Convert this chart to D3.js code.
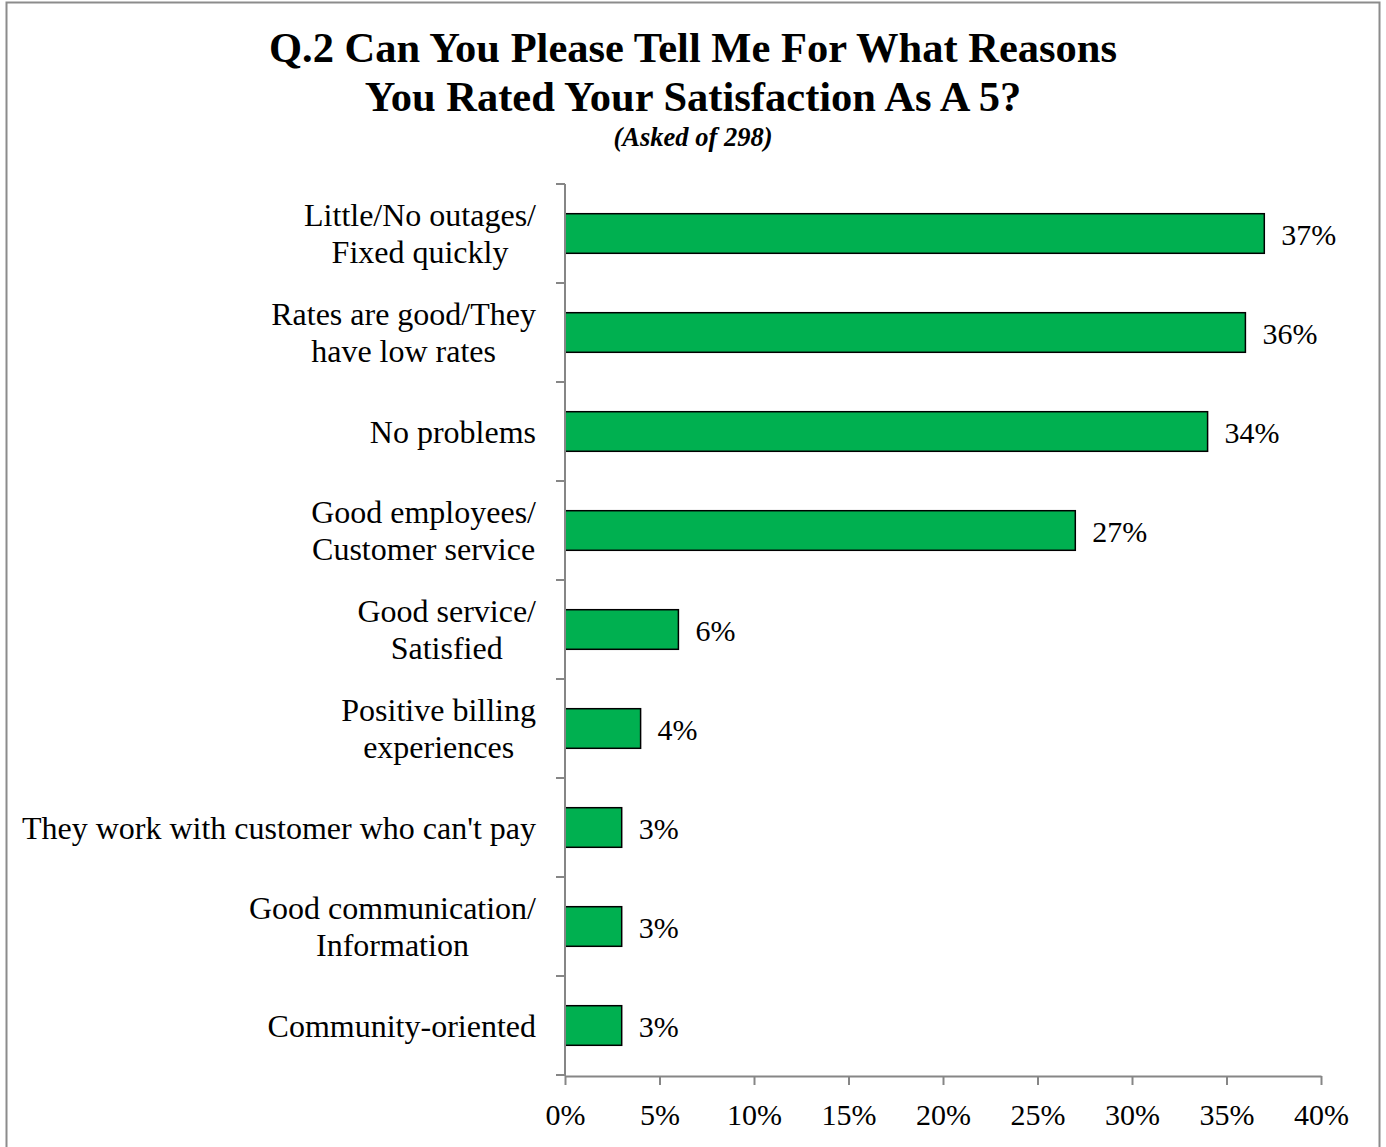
<!DOCTYPE html>
<html>
<head>
<meta charset="utf-8">
<script src="https://cdn.jsdelivr.net/npm/d3@7"></script>
<style>
  html, body { margin: 0; padding: 0; background: #fff; }
  svg { display: block; font-family: "Liberation Serif", "Times New Roman", serif; }
</style>
</head>
<body>
<svg id="chart" width="1386" height="1147"></svg>
<script>
// Survey reasons (each label may wrap onto two lines)
const categories = [
  ["Little/No outages/", "Fixed quickly"],
  ["Rates are good/They", "have low rates"],
  ["No problems"],
  ["Good employees/", "Customer service"],
  ["Good service/", "Satisfied"],
  ["Positive billing", "experiences"],
  ["They work with customer who can't pay"],
  ["Good communication/", "Information"],
  ["Community-oriented"]
];
const values = [37, 36, 34, 27, 6, 4, 3, 3, 3];
const xTicks = [0, 5, 10, 15, 20, 25, 30, 35, 40];
const titleLines = ["Q.2 Can You Please Tell Me For What Reasons", "You Rated Your Satisfaction As A 5?"];
const subtitle = "(Asked of 298)";

const W = 1386, H = 1147;
const plot = { left: 565, right: 1321, top: 184, bottom: 1075 };
const axisColor = "#868686";
const barColor = "#00B050";

const svg = d3.select("#chart");

// outer frame
svg.append("rect")
  .attr("x", 6.5).attr("y", 2.5)
  .attr("width", 1373).attr("height", 1160)
  .attr("fill", "none").attr("stroke", "#8c8c8c").attr("stroke-width", 2);

// title
svg.append("text")
  .attr("text-anchor", "middle")
  .attr("font-size", 42.5).attr("font-weight", "bold")
  .selectAll("tspan").data(titleLines).join("tspan")
  .attr("x", 693).attr("y", (d, i) => 62 + i * 49)
  .text(d => d);

svg.append("text")
  .attr("x", 693).attr("y", 146)
  .attr("text-anchor", "middle")
  .attr("font-size", 26.5).attr("font-weight", "bold").attr("font-style", "italic")
  .text(subtitle);

const keys = categories.map(c => c.join(" "));

const x = d3.scaleLinear().domain([0, 40]).range([plot.left, plot.right]);
const y = d3.scaleBand().domain(keys)
  .range([plot.top, plot.bottom])
  .paddingInner(0.6).paddingOuter(0.3);

// bars
svg.append("g").selectAll("rect").data(values).join("rect")
  .attr("x", x(0))
  .attr("y", (d, i) => y(keys[i]))
  .attr("width", d => x(d) - x(0))
  .attr("height", y.bandwidth())
  .attr("fill", barColor)
  .attr("stroke", "#000")
  .attr("stroke-width", 1.5);

// value labels
svg.append("g").selectAll("text").data(values).join("text")
  .attr("x", d => x(d) + 17)
  .attr("y", (d, i) => y(keys[i]) + y.bandwidth() / 2)
  .attr("dy", "0.38em")
  .attr("font-size", 30)
  .text(d => d + "%");

// x axis
const xAxis = svg.append("g")
  .attr("transform", `translate(0,${plot.bottom + 1})`)
  .call(d3.axisBottom(x).tickValues(xTicks).tickFormat(d => d + "%").tickSize(9).tickSizeOuter(0));
xAxis.select(".domain").attr("stroke", axisColor).attr("stroke-width", 2);
xAxis.selectAll(".tick line").attr("stroke", axisColor).attr("stroke-width", 2);
xAxis.selectAll(".tick text")
  .attr("font-family", "Liberation Serif, Times New Roman, serif")
  .attr("font-size", 30).attr("fill", "#000").attr("y", 17.5).attr("dy", "1.05em");

// y axis: line with ticks at band boundaries
const yAxis = svg.append("g");
yAxis.append("line")
  .attr("x1", plot.left).attr("x2", plot.left)
  .attr("y1", plot.top).attr("y2", plot.bottom + 1)
  .attr("stroke", axisColor).attr("stroke-width", 2);
const boundaries = d3.range(keys.length + 1).map(i => y.range()[0] + i * y.step());
yAxis.selectAll(".yt").data(boundaries).join("line")
  .attr("class", "yt")
  .attr("x1", plot.left - 9).attr("x2", plot.left)
  .attr("y1", d => d).attr("y2", d => d)
  .attr("stroke", axisColor).attr("stroke-width", 2);

// category labels: block right-aligned, lines centred within the block
const labelRight = 536, lineGap = 37;
const labels = svg.append("g").attr("font-size", 32);
categories.forEach((lines, i) => {
  const cy = y(keys[i]) + y.bandwidth() / 2;
  const g = labels.append("g");
  const texts = lines.map((s, j) => g.append("text")
    .attr("y", cy + (j - (lines.length - 1) / 2) * lineGap)
    .attr("dy", "0.35em")
    .attr("text-anchor", "middle")
    .text(s));
  const maxW = d3.max(texts, t => t.node().getComputedTextLength());
  texts.forEach(t => t.attr("x", labelRight - maxW / 2));
});
</script>
</body>
</html>
